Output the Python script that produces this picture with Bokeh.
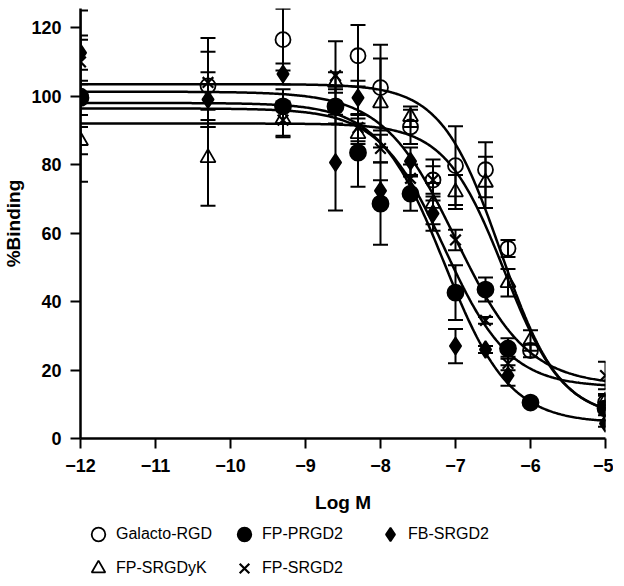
import numpy as np
from bokeh.plotting import figure
from bokeh.layouts import column
from bokeh.models import (ColumnDataSource, Whisker, TeeHead, Legend, LegendItem,
                          Range1d, FixedTicker)
from bokeh.embed import file_html
from bokeh.resources import INLINE

# ---------------- data ----------------
x_ticks = [-12, -11, -10, -9, -8, -7, -6, -5]
y_ticks = [0, 20, 40, 60, 80, 100, 120]

names = ["Galacto-RGD", "FP-PRGD2", "FB-SRGD2", "FP-SRGDyK", "FP-SRGD2"]

galacto_x = [-12, -10.3, -9.3, -8.3, -8.0, -7.6, -7.3, -7.0, -6.6, -6.3, -6.0, -5.0]
galacto_y = [100, 103, 116.5, 111.8, 102.5, 91, 75.5, 79.7, 78.5, 55.5, 25.7, 10.5]
galacto_e = [25, 10, 9, 9, 12.5, 5, 6, 11.5, 8, 2.5, 2, 2]

prgd_x = [-12, -9.3, -8.6, -8.3, -8.0, -7.6, -7.0, -6.6, -6.3, -6.0, -5.0]
prgd_y = [99.5, 97, 97, 83.5, 68.6, 71.5, 42.6, 43.5, 26.3, 10.5, 8.8]
prgd_e = [5, 5, 5, 10, 12, 5, 8, 3.5, 3, 1, 2]

fbs_x = [-12, -10.3, -9.3, -8.6, -8.3, -8.0, -7.6, -7.3, -7.0, -6.6, -6.3, -5.0]
fbs_y = [112.7, 99, 106.5, 80.6, 99.5, 72.4, 81, 65.7, 27, 26, 18.4, 4.4]
fbs_e = [5, 8, 3, 14, 5, 3, 4, 5, 5, 1, 3, 1]

yk_x = [-12, -10.3, -9.3, -8.6, -8.3, -8.0, -7.6, -7.3, -7.0, -6.6, -6.3, -6.0, -5.0]
yk_y = [87, 82, 93.4, 104, 89, 98, 94, 68.6, 72, 74.8, 45.5, 28.6, 11]
yk_e = [4, 14, 5, 3, 3, 13, 3, 6, 5, 7.5, 4, 3, 2]

srgd_x = [-12, -10.3, -9.3, -8.6, -8.3, -8.0, -7.6, -7.3, -7.0, -6.6, -6.3, -5.0]
srgd_y = [110, 104, 93, 106, 90.8, 84.7, 76, 75.5, 58, 34.5, 21.9, 18.4]
srgd_e = [6.5, 13, 5, 10, 4, 4, 4, 4, 3, 1, 2, 4]

# sigmoidal fit parameters (top, bottom, logIC50, hill) per series
fit_top = [103.5, 96.4, 98.0, 92.0, 101.3]
fit_bottom = [6.0, 15.0, 4.5, 6.0, 15.5]
fit_logic50 = [-6.4, -7.15, -7.15, -6.35, -7.0]
fit_hill = [1.1, 1.0, 1.0, 1.1, 0.9]

series_x = [galacto_x, prgd_x, fbs_x, yk_x, srgd_x]
series_y = [galacto_y, prgd_y, fbs_y, yk_y, srgd_y]
series_e = [galacto_e, prgd_e, fbs_e, yk_e, srgd_e]
markers = ["circle", "circle", "diamond", "triangle", "x"]
filled = [False, True, True, False, False]
sizes = [15, 16, 17, 15, 15]

FONT = "Liberation Sans"
LEFT = 80
RIGHT = 8
FRAME_W = 525
TOTAL_W = LEFT + FRAME_W + RIGHT

p = figure(frame_width=FRAME_W, frame_height=430, output_backend="svg", toolbar_location=None,
           x_range=Range1d(-12, -5), y_range=Range1d(0, 125.6),
           min_border_left=LEFT, min_border_right=RIGHT, min_border_top=8,
           min_border_bottom=76)
p.outline_line_color = None
p.grid.visible = False
p.background_fill_color = "white"

for ax in (p.xaxis[0], p.yaxis[0]):
    ax.axis_line_width = 2.5
    ax.major_tick_line_width = 2
    ax.major_tick_out = 10
    ax.major_tick_in = 0
    ax.minor_tick_line_color = None
    ax.major_label_text_font = FONT
    ax.major_label_text_font_style = "bold"
    ax.major_label_text_font_size = "18px"
    ax.major_label_text_color = "black"
    ax.axis_label_text_font = FONT
    ax.axis_label_text_font_style = "bold"
    ax.axis_label_text_font_size = "19px"
    ax.axis_label_text_color = "black"
    ax.axis_line_color = "black"
    ax.major_tick_line_color = "black"

p.xaxis.ticker = FixedTicker(ticks=x_ticks)
p.yaxis.ticker = FixedTicker(ticks=y_ticks)
p.xaxis.axis_label = "Log M"
p.yaxis.axis_label = "%Binding"
p.xaxis.major_label_standoff = 10
p.yaxis.major_label_standoff = 9
p.xaxis.axis_label_standoff = 17
p.yaxis.axis_label_standoff = 4

# fitted curves
xs_fit = np.linspace(-12, -5, 400)
for i in range(len(names)):
    yfit = fit_bottom[i] + (fit_top[i] - fit_bottom[i]) / (
        1 + 10 ** ((xs_fit - fit_logic50[i]) * fit_hill[i]))
    p.line(xs_fit, yfit, line_color="black", line_width=2.5)

for i in range(len(names)):
    x = np.array(series_x[i], dtype=float)
    y = np.array(series_y[i], dtype=float)
    e = np.array(series_e[i], dtype=float)
    src = ColumnDataSource(dict(x=x, y=y, upper=y + e, lower=y - e))
    w = Whisker(source=src, base="x", upper="upper", lower="lower",
                line_color="black", line_width=2,
                upper_head=TeeHead(size=15, line_width=2, line_color="black"),
                lower_head=TeeHead(size=15, line_width=2, line_color="black"))
    p.add_layout(w)

def marker_style(i):
    return dict(marker=markers[i], line_color="black",
                line_width=1.8 if markers[i] != "x" else 2.2,
                fill_color="black" if filled[i] else None)

for i in range(len(names)):
    src = ColumnDataSource(dict(x=series_x[i], y=series_y[i]))
    p.scatter("x", "y", source=src, size=sizes[i], **marker_style(i))

# legend strip below the chart (its ranges do not include the data, so only
# the legend entries are visible)
leg_fig = figure(width=TOTAL_W, height=70, output_backend="svg", toolbar_location=None,
                 x_axis_type=None, y_axis_type=None,
                 x_range=Range1d(0, 1), y_range=Range1d(0, 1),
                 min_border_left=LEFT, min_border_right=RIGHT, min_border_top=0,
                 min_border_bottom=0)
leg_fig.outline_line_color = None
leg_fig.grid.visible = False

leg_renderers = []
for i in range(len(names)):
    src = ColumnDataSource(dict(x=series_x[i], y=series_y[i]))
    leg_renderers.append(leg_fig.scatter("x", "y", source=src, size=sizes[i], **marker_style(i)))

rows = [[0, 1, 2], [3, 4]]
row_bottoms = [34, 0]
for k, row in enumerate(rows):
    leg = Legend(items=[LegendItem(label=names[i], renderers=[leg_renderers[i]], index=0)
                        for i in row],
                 orientation="horizontal", location=(0, row_bottoms[k]),
                 border_line_color=None, background_fill_alpha=0,
                 label_text_font=FONT, label_text_font_size="16px",
                 label_text_color="black",
                 glyph_width=36, glyph_height=34, label_height=34,
                 spacing=0, label_standoff=0, label_width=110,
                 padding=0, margin=0)
    leg_fig.add_layout(leg, "center")

layout = column(p, leg_fig, spacing=0)
open("out.html", "w").write(file_html(layout, INLINE))
